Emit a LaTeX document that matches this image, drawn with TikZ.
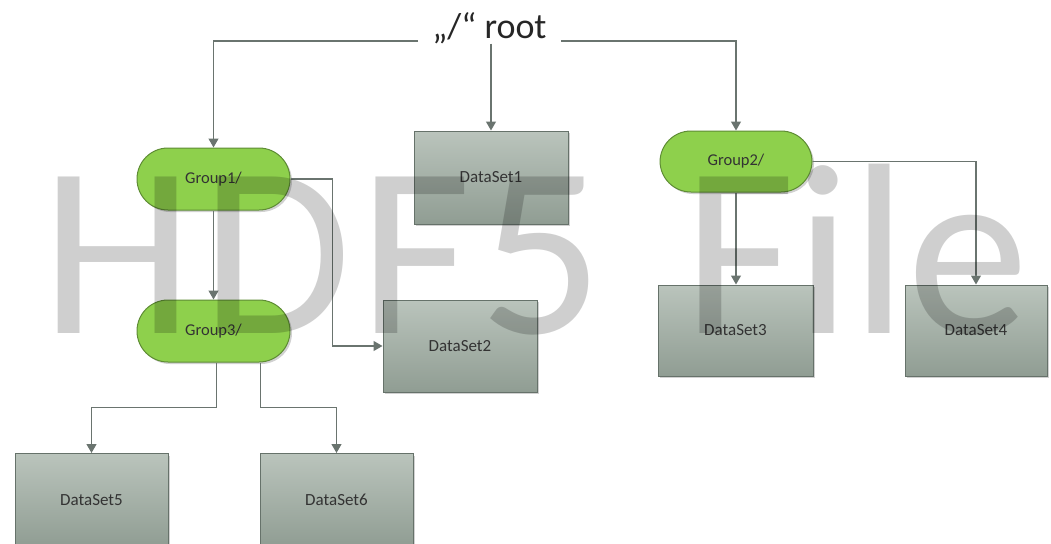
\documentclass[tikz,border=0pt]{standalone}
\usepackage{fontspec}
\setmainfont{Carlito}
\usetikzlibrary{arrows.meta,shadows}
\definecolor{boxtop}{HTML}{BAC4BC}
\definecolor{boxbot}{HTML}{909D93}
\definecolor{boxline}{HTML}{66726A}
\definecolor{grpfill}{HTML}{8ED04C}
\definecolor{grpline}{HTML}{5E8C34}
\definecolor{conncol}{HTML}{6A746F}
\tikzset{
  dsbox/.style={rectangle, draw=boxline, line width=1pt, top color=boxtop, bottom color=boxbot,
    minimum width=154pt, minimum height=93pt, inner sep=0pt,
    font=\fontsize{17}{20}\selectfont, text=black!80,
    drop shadow={shadow xshift=2pt, shadow yshift=-2pt, opacity=0.3, fill=black!60}},
  grp/.style={rectangle, rounded corners=31pt, draw=grpline, line width=1pt, fill=grpfill,
    minimum width=153pt, minimum height=62pt, inner sep=0pt,
    font=\fontsize{16.5}{19}\selectfont, text=black!80,
    drop shadow={shadow xshift=2pt, shadow yshift=-2pt, opacity=0.3, fill=black!60}},
  conn/.style={draw=conncol, line width=1.2pt, -{Triangle[width=10pt,length=9pt]}},
  watermark/.style={anchor=base west, inner sep=0pt, font=\fontsize{244}{244}\selectfont, text=black, opacity=0.19}
}
\begin{document}
\begin{tikzpicture}[x=1pt,y=-1pt]
\useasboundingbox (0,0) rectangle (1051,543);
\clip (0,0) rectangle (1051,543);
% root
\node[anchor=base, inner xsep=14pt, inner ysep=0pt, font=\fontsize{36}{40}\selectfont, text=black!85] (root) at (489.5,38) {„/“ root};
% nodes
\node[grp] (g1) at (213.5,179) {Group1/};
\node[grp] (g3) at (213.5,331) {Group3/};
\node[grp, minimum width=152pt, minimum height=61pt] (g2) at (736,161.5) {Group2/};
\node[dsbox] (ds1) at (491,177.5) {DataSet1};
\node[dsbox, minimum height=92pt] (ds2) at (460,346) {DataSet2};
\node[dsbox, minimum width=155pt, minimum height=91pt] (ds3) at (735.5,330.5) {DataSet3};
\node[dsbox, minimum width=142pt, minimum height=91pt] (ds4) at (976,330.5) {DataSet4};
\node[dsbox, minimum width=153pt] (ds5) at (91.5,500) {DataSet5};
\node[dsbox, minimum width=153pt] (ds6) at (336.5,500) {DataSet6};
% connectors
\draw[conn] ([yshift=-3pt]root.base west) -| (g1.north);
\draw[conn] ([yshift=-3pt]root.base east) -| (g2.north);
\draw[conn] (ds1.north |- root.south) -- (ds1.north);
\draw[conn] (g1.south) -- (g3.north);
\draw[conn] (g1.east) -- ++(42,0) |- (ds2.west);
\draw[conn] ([xshift=3pt]g3.south) -- ++(0,45) -| (ds5.north);
\draw[conn] ([xshift=-30pt]g3.south east) -- ++(0,45) -| (ds6.north);
\draw[conn] (g2.south) -- (g2.south |- ds3.north);
\draw[conn] (g2.east) -| (ds4.north);
% watermark
\node[watermark] (wm) at (41,333) {H\kern8pt D\kern8pt F\kern8pt 5\hspace{26pt} File};
\end{tikzpicture}
\end{document}
